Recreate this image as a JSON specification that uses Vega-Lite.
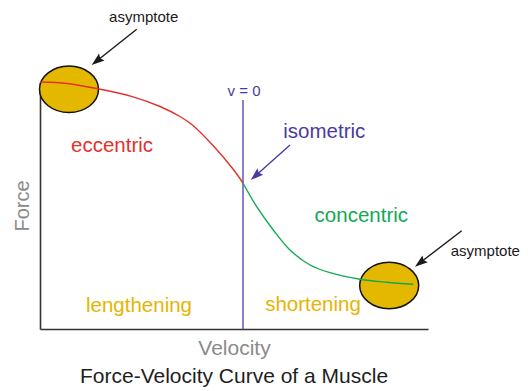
{
  "$schema": "https://vega.github.io/schema/vega-lite/v6.json",
  "width": 388,
  "height": 247,
  "autosize": {"type": "none"},
  "padding": {"left": 40, "top": 82, "right": 101, "bottom": 62},
  "config": {
    "view": {"stroke": null},
    "font": "Liberation Sans",
    "axis": {"grid": false, "ticks": false, "labels": false, "domainColor": "#333333", "domainWidth": 1.6, "titleFont": "Liberation Sans", "titleFontWeight": "normal", "titleColor": "#8a8a8a", "titleFontSize": 20}
  },
  "title": {"text": "Force-Velocity Curve of a Muscle", "orient": "bottom", "anchor": "middle", "font": "Liberation Sans", "fontSize": 21, "fontWeight": "normal", "color": "#1e1e1e", "offset": 8},
  "datasets": {
    "curve": [
      {"v": -2.03, "F": 2.47, "kind": "eccentric"},
      {"v": -1.76, "F": 2.455, "kind": "eccentric"},
      {"v": -1.45, "F": 2.402, "kind": "eccentric"},
      {"v": -1.10, "F": 2.322, "kind": "eccentric"},
      {"v": -0.83, "F": 2.225, "kind": "eccentric"},
      {"v": -0.63, "F": 2.125, "kind": "eccentric"},
      {"v": -0.50, "F": 2.035, "kind": "eccentric"},
      {"v": -0.30, "F": 1.835, "kind": "eccentric"},
      {"v": -0.10, "F": 1.60, "kind": "eccentric"},
      {"v": 0, "F": 1.46, "kind": "eccentric"},
      {"v": 0, "F": 1.46, "kind": "concentric"},
      {"v": 0.137, "F": 1.223, "kind": "concentric"},
      {"v": 0.303, "F": 0.99, "kind": "concentric"},
      {"v": 0.47, "F": 0.79, "kind": "concentric"},
      {"v": 0.67, "F": 0.64, "kind": "concentric"},
      {"v": 0.87, "F": 0.563, "kind": "concentric"},
      {"v": 1.17, "F": 0.497, "kind": "concentric"},
      {"v": 1.437, "F": 0.467, "kind": "concentric"},
      {"v": 1.703, "F": 0.447, "kind": "concentric"}
    ],
    "ellipses": [
      {"v": -1.74, "F": 2.397},
      {"v": 1.462, "F": 0.435}
    ],
    "shafts": [
      {"v": -1.063, "F": 2.997, "v2": -1.45, "F2": 2.69, "kind": "asymptote"},
      {"v": 2.187, "F": 0.983, "v2": 1.783, "F2": 0.672, "kind": "asymptote"},
      {"v": 0.47, "F": 1.84, "v2": 0.137, "F2": 1.543, "kind": "isometric"}
    ],
    "bigLabels": [
      {"label": "eccentric", "v": -1.31, "F": 1.775, "kind": "eccentric"},
      {"label": "isometric", "v": 0.813, "F": 1.907, "kind": "isometric"},
      {"label": "concentric", "v": 1.183, "F": 1.073, "kind": "concentric"},
      {"label": "lengthening", "v": -1.04, "F": 0.175, "kind": "region"},
      {"label": "shortening", "v": 0.70, "F": 0.18, "kind": "region"}
    ],
    "smallLabels": [
      {"label": "asymptote", "v": -0.993, "F": 3.073, "kind": "asymptote"},
      {"label": "asymptote", "v": 2.423, "F": 0.73, "kind": "asymptote"},
      {"label": "v = 0", "v": 0.01, "F": 2.33, "kind": "isometric"}
    ]
  },
  "encoding": {
    "x": {"field": "v", "type": "quantitative", "title": "Velocity", "scale": {"domain": [-2.03, 1.85], "nice": false, "zero": false}, "axis": {"orient": "bottom", "titlePadding": 8, "titleFontSize": 21}},
    "y": {"field": "F", "type": "quantitative", "title": "Force", "scale": {"domain": [0, 2.47], "nice": false, "zero": false}, "axis": {"orient": "left", "titlePadding": 8}}
  },
  "layer": [
    {
      "data": {"name": "ellipses"},
      "mark": {"type": "point", "shape": "M-1,0C-1,-0.435,-0.5523,-0.788,0,-0.788C0.5523,-0.788,1,-0.435,1,0C1,0.435,0.5523,0.788,0,0.788C-0.5523,0.788,-1,0.435,-1,0Z", "size": 3481, "filled": true, "fill": "#E5B800", "stroke": "#111111", "strokeWidth": 1.5, "opacity": 1, "fillOpacity": 1}
    },
    {
      "data": {"values": [{"v": 0, "F": 0, "F2": 2.29}]},
      "mark": {"type": "rule", "color": "#6656BC", "strokeWidth": 1.5},
      "encoding": {"y2": {"field": "F2"}}
    },
    {
      "data": {"name": "curve"},
      "mark": {"type": "line", "strokeWidth": 1.4, "interpolate": "catmull-rom"},
      "encoding": {
        "color": {"field": "kind", "type": "nominal", "legend": null, "scale": {"domain": ["asymptote", "eccentric", "isometric", "concentric", "region"], "range": ["#1a1a1a", "#E2302B", "#4B3A9E", "#12A955", "#E6B400"]}},
        "detail": {"field": "kind"}
      }
    },
    {
      "data": {"name": "shafts"},
      "mark": {"type": "rule", "strokeWidth": 1.4},
      "encoding": {
        "x2": {"field": "v2"},
        "y2": {"field": "F2"},
        "color": {"field": "kind", "type": "nominal", "legend": null, "scale": {"domain": ["asymptote", "eccentric", "isometric", "concentric", "region"], "range": ["#1a1a1a", "#E2302B", "#4B3A9E", "#12A955", "#E6B400"]}}
      }
    },
    {
      "data": {"values": [{"v": -1.45, "F": 2.69}]},
      "mark": {"type": "point", "shape": "M0,-1L0.55,0.6L0,0.35L-0.55,0.6Z", "size": 256, "angle": 231.6, "filled": true, "color": "#1a1a1a", "opacity": 1}
    },
    {
      "data": {"values": [{"v": 1.783, "F": 0.672}]},
      "mark": {"type": "point", "shape": "M0,-1L0.55,0.6L0,0.35L-0.55,0.6Z", "size": 256, "angle": 232.4, "filled": true, "color": "#1a1a1a", "opacity": 1}
    },
    {
      "data": {"values": [{"v": 0.137, "F": 1.543}]},
      "mark": {"type": "point", "shape": "M0,-1L0.55,0.6L0,0.35L-0.55,0.6Z", "size": 256, "angle": 228.3, "filled": true, "color": "#4B3A9E", "opacity": 1}
    },
    {
      "data": {"name": "bigLabels"},
      "mark": {"type": "text", "fontSize": 20.5, "align": "center", "baseline": "alphabetic", "font": "Liberation Sans"},
      "encoding": {
        "text": {"field": "label"},
        "color": {"field": "kind", "type": "nominal", "legend": null, "scale": {"domain": ["asymptote", "eccentric", "isometric", "concentric", "region"], "range": ["#1a1a1a", "#E2302B", "#4B3A9E", "#12A955", "#E6B400"]}}
      }
    },
    {
      "data": {"name": "smallLabels"},
      "mark": {"type": "text", "fontSize": 15, "align": "center", "baseline": "alphabetic", "font": "Liberation Sans"},
      "encoding": {
        "text": {"field": "label"},
        "color": {"field": "kind", "type": "nominal", "legend": null, "scale": {"domain": ["asymptote", "eccentric", "isometric", "concentric", "region"], "range": ["#1a1a1a", "#E2302B", "#4B3A9E", "#12A955", "#E6B400"]}}
      }
    }
  ]
}
